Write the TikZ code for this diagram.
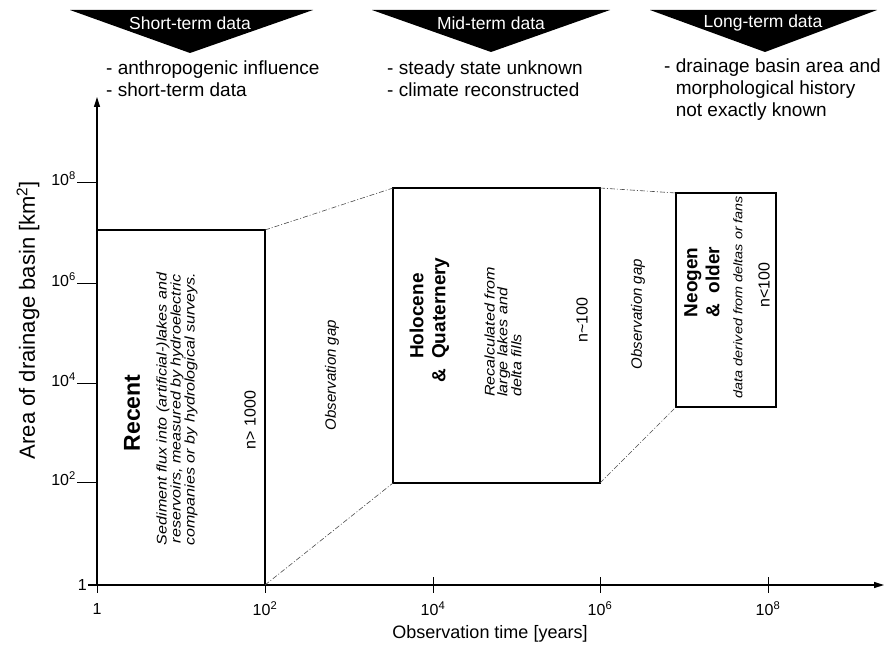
\documentclass[tikz,border=0pt]{standalone}
\usepackage{fontspec}
\setmainfont{Liberation Sans}
\newfontfamily\vfont[FakeStretch=1.15]{Liberation Sans}
\usetikzlibrary{arrows.meta}
\begin{document}
\begin{tikzpicture}[x=1pt,y=-1pt,
  box/.style={draw, line width=2.6pt, inner sep=0pt, outer sep=0pt},
  axis/.style={line width=1.3pt},
  axarrow/.style={-{Triangle[length=10pt,width=6pt]}},
  gapline/.style={line width=0.6pt, black!70, dash pattern=on 5pt off 2pt on 1pt off 2pt},
  tickmark/.style={line width=1pt},
  ticklab/.style={font=\fontsize{16}{16}\selectfont, inner sep=0pt},
  head/.style={text=white, font=\fontsize{17.5}{17.5}\selectfont, inner sep=0pt},
  bullet/.style={anchor=west, align=left, font=\fontsize{19}{22}\selectfont, inner sep=0pt},
  vtitle/.style={rotate=90, font=\bfseries\fontsize{19}{22}\selectfont, align=left, inner sep=0pt},
  vital/.style={rotate=90, font=\vfont\itshape\fontsize{14}{12.8}\selectfont, align=center, inner sep=0pt},
  vgap/.style={rotate=90, font=\itshape\fontsize{15}{15}\selectfont, inner sep=0pt},
  vnum/.style={rotate=90, font=\fontsize{16}{16}\selectfont, inner sep=0pt},
]
\useasboundingbox (0,0) rectangle (893,650);

% header triangles
\fill (70,10) -- (313,10) -- (190,53) -- cycle;
\fill (372,10) -- (610,10) -- (491,52) -- cycle;
\fill (650,10) -- (877,10) -- (765,52) -- cycle;
\node[head] (h1) at (190,23) {Short-term data};
\node[head] (h2) at (491,23) {Mid-term data};
\node[head] (h3) at (763,23) {Long-term data};

\node[bullet] (b1) at (106,79) {- anthropogenic influence\\- short-term data};
\node[bullet] (b2) at (387,79) {- steady state unknown\\- climate reconstructed};
\node[bullet] (b3) at (664,90) {- drainage basin area and\\\phantom{- }morphological history\\\phantom{- }not exactly known};

% axes
\coordinate (O) at (97,585);
\coordinate (xstart) at (88,585);
\coordinate (ytop) at (97,97);
\coordinate (xend) at (884,585);
\draw[axis,axarrow] (O) -- (ytop);
\draw[axis,axarrow] (xstart) -- (xend);

\foreach \yy/\lab in {482/2, 383/4, 283/6, 182/8}{
  \draw[tickmark] (77,\yy) -- (97,\yy);
  \node[ticklab, anchor=east] (yl\lab) at (76,\yy-3) {10\textsuperscript{\lab}};
}
\node[ticklab, anchor=east] (yl0) at (87,585) {1};

\foreach \xx/\lab in {265/2, 433/4, 600/6, 768/8}{
  \draw[tickmark] (\xx,577) -- (\xx,593);
  \node[ticklab] (xl\lab) at (\xx,609) {10\textsuperscript{\lab}};
}
\draw[tickmark] (97,577) -- (97,593);
\node[ticklab] (xl0) at (97,609) {1};

\node[font=\fontsize{18}{18}\selectfont] (xlab) at (490,634) {Observation time [years]};
\node[rotate=90, font=\fontsize{22}{22}\selectfont] (ylab) at (28,320) {Area of drainage basin [km\textsuperscript{2}]};

% boxes
\node[box, minimum width=168pt, minimum height=355pt] (recent) at (181,407.5) {};
\node[box, minimum width=207pt, minimum height=295pt] (holo) at (496.5,335.5) {};
\node[box, minimum width=100pt, minimum height=214pt] (neo) at (726,300) {};

% gap connectors
\draw[gapline] (recent.north east) -- (holo.north west);
\draw[gapline] (recent.south east) -- (holo.south west);
\draw[gapline] (holo.north east) -- (neo.north west);
\draw[gapline] (holo.south east) -- (neo.south west);

% Recent
\node[vtitle, font=\bfseries\fontsize{23}{23}\selectfont] (rt) at (132,413) {Recent};
\node[vital] (rd) at (177,409) {Sediment flux into (artificial-)lakes and\\reservoirs, measured by hydroelectric\\companies or by hydrological surveys.};
\node[vnum] (rn) at (250,420) {n> 1000};

% gaps
\node[vgap] (g1) at (332,375) {Observation gap};
\node[vgap] (g2) at (638,314) {Observation gap};

% Holocene
\node[vtitle] (ht) at (430,320) {\begin{tabular}{@{}l@{\hspace{10pt}}l@{}} & Holocene\\ \& & Quaternery\end{tabular}};
\node[vital, align=left] (hd) at (503,332) {Recalculated from\\large lakes and\\delta fills};
\node[vnum] (hn) at (582,320) {n\textasciitilde 100};

% Neogen
\node[vtitle] (nt) at (702,282) {Neogen\\\&\hspace{10pt}older};
\node[vital, font=\vfont\itshape\fontsize{12.5}{12.5}\selectfont] (nd) at (738,297) {data derived from deltas or fans};
\node[vnum] (nn) at (764,285) {n<100};
\end{tikzpicture}
\end{document}
